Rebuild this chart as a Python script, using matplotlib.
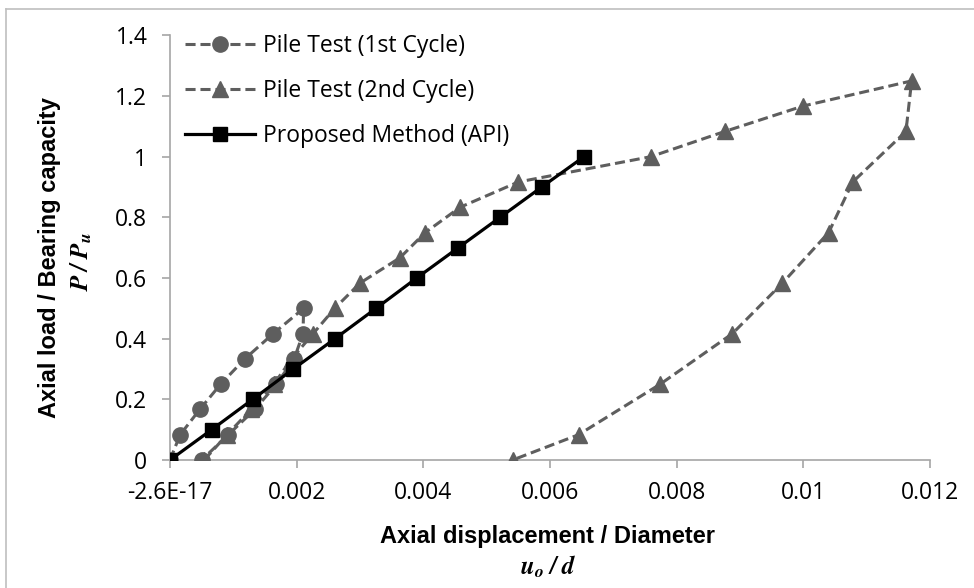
import matplotlib
matplotlib.use("Agg")
import matplotlib.pyplot as plt
from matplotlib.lines import Line2D

# 1st cycle of the pile test (u/d, P/Pu)
cyc1_x = [0.0, 0.00016, 0.00047, 0.00080, 0.00118, 0.00163, 0.00211,
          0.00210, 0.00196, 0.00168, 0.00134, 0.00092, 0.00050]
cyc1_y = [0.0, 0.0833, 0.1667, 0.25, 0.3333, 0.4167, 0.5,
          0.4167, 0.3333, 0.25, 0.1667, 0.0833, 0.0]

# 2nd cycle of the pile test
cyc2_x = [0.00054, 0.00090, 0.00128, 0.00164, 0.00192, 0.00226, 0.00260,
          0.00300, 0.00363, 0.00403, 0.00458, 0.00550, 0.00759, 0.00876,
          0.00999, 0.01171, 0.01162, 0.01078, 0.01040, 0.00967, 0.00888,
          0.00774, 0.00645, 0.00541]
cyc2_y = [0.0, 0.0833, 0.1667, 0.25, 0.3333, 0.4167, 0.5,
          0.5833, 0.6667, 0.75, 0.8333, 0.9167, 1.0, 1.0833,
          1.1667, 1.25, 1.0833, 0.9167, 0.75, 0.5833, 0.4167,
          0.25, 0.0833, 0.0]

# proposed method (API)
api_x = [0.0, 0.000658, 0.001306, 0.001947, 0.002605, 0.003253,
         0.003895, 0.004552, 0.005211, 0.005869, 0.006537]
api_y = [0.0, 0.1, 0.2, 0.3, 0.4, 0.5, 0.6, 0.7, 0.8, 0.9, 1.0]

x_ticks = [0, 0.002, 0.004, 0.006, 0.008, 0.01, 0.012]
x_ticklabels = ['-2.6E-17', '0.002', '0.004', '0.006', '0.008', '0.01', '0.012']
y_ticks = [0, 0.2, 0.4, 0.6, 0.8, 1.0, 1.2, 1.4]
y_ticklabels = ['0', '0.2', '0.4', '0.6', '0.8', '1', '1.2', '1.4']

plt.rcParams['font.family'] = ['Open Sans', 'DejaVu Sans']
plt.rcParams['mathtext.fontset'] = 'stix'

W, H = 974, 588
fig = plt.figure(figsize=(W / 100, H / 100), dpi=100)
ax = fig.add_axes([170 / W, 1 - 460 / H, 760 / W, (460 - 35.4) / H])

grey = '#5e5e5e'
dash = (0, (3.3, 1.6))
ax.plot(cyc1_x, cyc1_y, color=grey, ls=dash, lw=2.2,
        marker='o', ms=11, mfc=grey, mec=grey, label='Pile Test (1st Cycle)')
ax.plot(cyc2_x, cyc2_y, color=grey, ls=dash, lw=2.2,
        marker='^', ms=11, mfc=grey, mec=grey, label='Pile Test (2nd Cycle)')
ax.plot(api_x, api_y, color='black', lw=2.3,
        marker='s', ms=9.5, mfc='black', mec='black', label='Proposed Method (API)')

ax.set_xlim(0, 0.012)
ax.set_ylim(0, 1.4)
ax.set_xticks(x_ticks)
ax.set_xticklabels(x_ticklabels)
ax.set_yticks(y_ticks)
ax.set_yticklabels(y_ticklabels)

for s in ['top', 'right']:
    ax.spines[s].set_visible(False)
for s in ['left', 'bottom']:
    ax.spines[s].set_color('#a6a6a6')
    ax.spines[s].set_linewidth(1.2)
    ax.spines[s].set_zorder(0)
ax.tick_params(direction='out', length=5.8, width=1.2, color='#a6a6a6',
               labelsize=16.5, labelcolor='black')
ax.tick_params(axis='x', pad=9)
ax.tick_params(axis='y', pad=10.5)
for lab in ax.get_xticklabels() + ax.get_yticklabels():
    lab.set_clip_on(False)

leg = ax.legend(loc='upper left', bbox_to_anchor=(0.008, 1.026), frameon=False,
                fontsize=16.5, handlelength=3.05, handletextpad=0.35,
                labelspacing=0.92, borderaxespad=0)

# axis titles (two lines each, second line is the symbol)
fig.text(548 / W, 1 - 536 / H, 'Axial displacement / Diameter', ha='center',
         va='center', fontsize=17, fontweight='bold', family='Liberation Sans')
fig.text(548 / W, 1 - 567 / H, r'$\mathbfit{u_o}\;\mathbfit{/}\;\mathbfit{d}$',
         ha='center', va='center', fontsize=18)
fig.text(50 / W, 1 - 258 / H, 'Axial load / Bearing capacity', ha='center',
         va='center', rotation=90, fontsize=17, fontweight='bold',
         family='Liberation Sans')
fig.text(82 / W, 1 - 261 / H, r'$\mathbfit{P}\;\mathbfit{/}\;\mathbfit{P_u}$',
         ha='center', va='center', rotation=90, fontsize=18)

# outer chart border (only top and left visible in the crop)
fig.add_artist(Line2D([6 / W, 6 / W], [0, 1 - 9 / H], color='#bfbfbf', lw=1.2,
                      transform=fig.transFigure))
fig.add_artist(Line2D([6 / W, 1], [1 - 9 / H, 1 - 9 / H], color='#bfbfbf', lw=1.2,
                      transform=fig.transFigure))

fig.savefig('out.png', dpi=100)
